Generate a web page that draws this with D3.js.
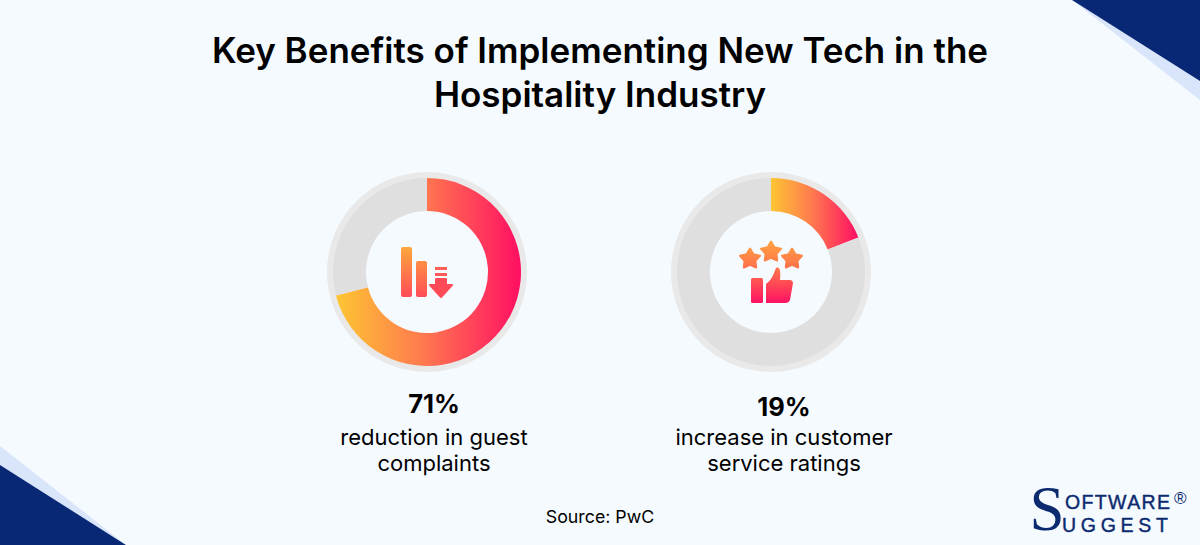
<!DOCTYPE html>
<html>
<head>
<meta charset="utf-8">
<script src="https://cdn.jsdelivr.net/npm/d3@7"></script>
<style>
  html, body { margin: 0; padding: 0; background: #f5faff; }
  svg { display: block; }
  text { font-family: Inter, "Noto Sans", sans-serif; fill: #000; text-anchor: middle; }
</style>
</head>
<body>
<svg id="chart" width="1200" height="545"></svg>
<script>
// values
const titleLines = ["Key Benefits of Implementing New Tech in the", "Hospitality Industry"];
const percents = [71, 19];
const captions = [["reduction in guest", "complaints"], ["increase in customer", "service ratings"]];
const icons = ["bars", "thumb"];
const sourceText = "Source: PwC";

const width = 1200, height = 545;
const svg = d3.select("#chart");
const defs = svg.append("defs");

//background
svg.append("rect").attr("width", width).attr("height", height).attr("fill", "#f5faff");

//corner triangles
const corner = (pts, color) => svg.append("path").attr("d", d3.line()(pts) + "Z").attr("fill", color);
corner([[1072, 0], [1200, 100], [1200, 81]], "#d9e5fa");
corner([[1072, 0], [1200, 0], [1200, 81]], "#082876");
corner([[0, 446], [126, 545], [0, 465]], "#d9e5fa");
corner([[0, 465], [126, 545], [0, 545]], "#082876");

//title
svg.selectAll(".title").data(titleLines).join("text")
  .attr("class", "title")
  .attr("x", 600)
  .attr("y", (d, i) => 63 + i * 44)
  .attr("font-size", 35)
  .attr("font-weight", 600)
  .text(d => d);

//donuts
const centerX = d3.scaleOrdinal().domain(percents).range([427, 771]);
const labelX = d3.scaleOrdinal().domain(percents).range([434, 784]);
const percentY = d3.scaleOrdinal().domain(percents).range([413, 416]);
const centerY = 272;

const pie = d3.pie().sort(null);
const arc = d3.arc().innerRadius(61).outerRadius(94);
const halo = d3.arc().innerRadius(93).outerRadius(100).startAngle(0).endAngle(2 * Math.PI);

percents.forEach((pct, i) => {
  const g = svg.append("g").attr("transform", `translate(${centerX(pct)},${centerY})`);
  const slices = pie([pct, 100 - pct]);

  //the gradient runs left to right across the coloured slice only
  const xs = d3.range(0, 101).map(k => 94 * Math.sin(slices[0].endAngle * k / 100));
  const grad = defs.append("linearGradient")
    .attr("id", "slice" + i)
    .attr("gradientUnits", "userSpaceOnUse")
    .attr("x1", d3.min(xs)).attr("x2", d3.max(xs))
    .attr("y1", 0).attr("y2", 0);
  grad.append("stop").attr("offset", 0).attr("stop-color", "#fdc532");
  grad.append("stop").attr("offset", 0.45).attr("stop-color", "#ff7d4e");
  grad.append("stop").attr("offset", 1).attr("stop-color", "#ff0f63");

  g.append("path").attr("d", halo()).attr("fill", "#e9e9e9");
  g.selectAll("path.slice").data(slices).join("path")
    .attr("class", "slice")
    .attr("d", arc)
    .attr("fill", (d, k) => k === 0 ? `url(#slice${i})` : "#dfdfdf");

  drawIcon(g, icons[i], i);

  svg.append("text")
    .attr("x", labelX(pct)).attr("y", percentY(pct))
    .attr("font-size", 25.5).attr("font-weight", 700)
    .text(pct + "%");
  svg.selectAll(".cap" + i).data(captions[i]).join("text")
    .attr("class", "cap" + i)
    .attr("x", labelX(pct))
    .attr("y", (d, k) => 445 + k * 26)
    .attr("font-size", 22)
    .text(d => d);
});

function starPath(cx, cy, r) {
  const pts = d3.range(10).map(k => {
    const a = k * Math.PI / 5, rad = k % 2 ? r * 0.55 : r;
    return [cx + rad * Math.sin(a), cy - rad * Math.cos(a)];
  });
  return d3.line()(pts) + "Z";
}

function drawIcon(g, kind, i) {
  const id = "icon" + i;
  const grad = defs.append("linearGradient").attr("id", id)
    .attr("gradientUnits", "userSpaceOnUse")
    .attr("x1", 0).attr("x2", 0);
  if (kind === "bars") {
    grad.attr("y1", -26).attr("y2", 26);
    grad.append("stop").attr("offset", 0).attr("stop-color", "#fdaa3c");
    grad.append("stop").attr("offset", 1).attr("stop-color", "#ff4a58");
    const fill = `url(#${id})`;
    g.append("rect").attr("x", -26).attr("y", -25).attr("width", 11).attr("height", 50).attr("rx", 2).attr("fill", fill);
    g.append("rect").attr("x", -11).attr("y", -11).attr("width", 11).attr("height", 36).attr("rx", 2).attr("fill", fill);
    g.append("rect").attr("x", 8).attr("y", -5).attr("width", 12).attr("height", 3).attr("fill", "#ff5f55");
    g.append("rect").attr("x", 8).attr("y", 1).attr("width", 12).attr("height", 3).attr("fill", "#ff5a56");
    g.append("path").attr("d", "M9,7H19V13H25L14,25L3,13H9Z")
      .attr("fill", "#ff4a58").attr("stroke", "#ff4a58").attr("stroke-width", 2).attr("stroke-linejoin", "round");
  } else {
    grad.attr("y1", -31).attr("y2", 32);
    grad.append("stop").attr("offset", 0).attr("stop-color", "#ffa23f");
    grad.append("stop").attr("offset", 0.5).attr("stop-color", "#ff6a4e");
    grad.append("stop").attr("offset", 1).attr("stop-color", "#ff0f63");
    const fill = `url(#${id})`;
    [[-21, -13, 10.5], [0, -20, 10.5], [21, -13, 10.5]].forEach(s => {
      g.append("path").attr("d", starPath(s[0], s[1], s[2]))
        .attr("fill", fill).attr("stroke", fill).attr("stroke-width", 2).attr("stroke-linejoin", "round");
    });
    g.append("rect").attr("x", -20).attr("y", 6).attr("width", 12).attr("height", 25).attr("rx", 1.5).attr("fill", fill);
    g.append("path")
      .attr("d", "M-5,31V12C2,7 3,0 5,-4C9,-6 10,0 9,8H19C21,8 22,10 22,11L19,28C18,30 17,31 14,31Z")
      .attr("fill", fill);
  }
}

//source
svg.append("text").attr("x", 600).attr("y", 523).attr("font-size", 17.8).text(sourceText);

//logo, kept as real text
const logoColor = "#0b2a6f";
const logoFont = "'Liberation Sans', sans-serif";
const logo = svg.append("g");
logo.append("text").attr("x", 1047).attr("y", 530)
  .style("font-family", "'Liberation Serif', serif").style("fill", logoColor)
  .attr("font-size", 63).text("S");
logo.append("text").attr("x", 1065).attr("y", 509)
  .style("font-family", logoFont).style("fill", logoColor).style("text-anchor", "start")
  .style("stroke", logoColor).style("stroke-width", 0.4)
  .attr("font-size", 19.5).attr("textLength", 105).text("OFTWARE");
logo.append("text").attr("x", 1174).attr("y", 504)
  .style("font-family", logoFont).style("fill", logoColor).style("text-anchor", "start")
  .attr("font-size", 17).text("®");
logo.append("text").attr("x", 1062).attr("y", 532)
  .style("font-family", logoFont).style("fill", logoColor).style("text-anchor", "start")
  .style("stroke", logoColor).style("stroke-width", 0.4)
  .attr("font-size", 19.5).attr("textLength", 106).text("UGGEST");
</script>
</body>
</html>
